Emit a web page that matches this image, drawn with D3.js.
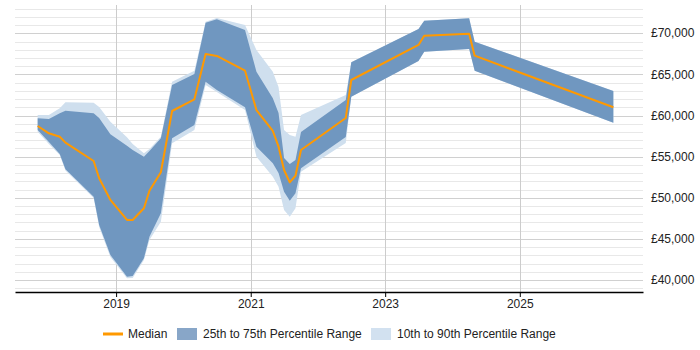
<!DOCTYPE html>
<html>
<head>
<meta charset="utf-8">
<script src="https://cdn.jsdelivr.net/npm/d3@7"></script>
<style>
  body { margin: 0; background: #fff; }
  svg { font-family: "Liberation Sans", Arial, sans-serif; }
  .grid-minor { stroke: #e8e8e8; stroke-width: 1; }
  .grid-major { stroke: #d0d0d0; stroke-width: 1; }
  .grid-x { stroke: #cccccc; stroke-width: 1; }
  .tick-label { font-size: 12px; fill: #222; font-family: "Liberation Sans", Arial, sans-serif; }
  .legend-label { font-size: 12px; fill: #222; }
</style>
</head>
<body>
<svg id="chart" width="700" height="350"></svg>
<script>

// values
var dates = ["2017-11-01", "2018-01-01", "2018-03-01", "2018-04-01", "2018-09-01", "2018-10-01",
             "2018-12-01", "2019-03-01", "2019-04-01", "2019-06-01", "2019-07-01", "2019-09-01",
             "2019-11-01", "2020-03-01", "2020-05-01", "2020-07-01", "2020-12-01", "2021-02-01",
             "2021-05-01", "2021-06-01", "2021-07-01", "2021-08-01", "2021-09-01", "2021-10-01",
             "2022-06-01", "2022-07-01", "2023-07-01", "2023-08-01", "2024-04-01", "2024-05-01",
             "2026-05-24"];

var median = [58725, 57840, 57425, 56700, 54470, 52370, 49730, 47300, 47300, 48720, 50860, 53100,
              60550, 61970, 67480, 67240, 65450, 60670, 58120, 56210, 53380, 51880, 52680, 55810,
              59700, 64320, 68580, 69710, 69950, 67280, 61000];

var p25 = [58240, 56780, 55320, 53460, 50130, 46690, 43040, 40400, 40490, 42640, 45270, 48110,
           57230, 58850, 64110, 63100, 61000, 56210, 54190, 53010, 50740, 49640, 50540, 53580,
           57390, 62290, 66630, 67760, 68090, 65450, 59130];

var p75 = [59660, 59580, 60270, 60590, 60270, 59700, 57720, 56330, 55810, 54990, 55690, 57230,
           63710, 65050, 71290, 71700, 70400, 65330, 62100, 60310, 54840, 54110, 54590, 58000,
           61890, 66470, 70520, 71530, 71820, 68980, 62980];

var p10 = [58035, 56540, 55200, 53315, 49970, 46445, 42800, 40210, 40240, 42430, 44860, 47090,
           56620, 58240, 63710, 62860, 60670, 54990, 52560, 51350, 48510, 47700, 48720, 53170,
           56660, 62290, 66630, 67760, 68090, 65450, 59130];

var p90 = [60065, 60065, 60880, 61610, 61560, 61040, 59250, 57350, 56540, 55410, 55930, 57425,
           64110, 65450, 71410, 71860, 71010, 67970, 65330, 63470, 58240, 57630, 57425, 60065,
           62500, 66470, 70520, 71530, 71820, 68980, 62980];

var x_ticks = ["2019-01-01", "2021-01-01", "2023-01-01", "2025-01-01"];
var y_ticks = [40000, 45000, 50000, 55000, 60000, 65000, 70000];

var legend_labels = ["Median", "25th to 75th Percentile Range", "10th to 90th Percentile Range"];

var parseDate = d3.timeParse("%Y-%m-%d");

var plotLeft = 15, plotRight = 643, plotTop = 5, plotBottom = 292;

var svg = d3.select("#chart");

var xScale = d3.scaleTime()
               .domain([parseDate("2017-07-01"), parseDate("2026-11-01")])
               .range([plotLeft, plotRight]);

var yScale = d3.scaleLinear()
               .domain([38540, 73440])
               .range([plotBottom, plotTop]);

var data = dates.map((d, i) => ({
    date: parseDate(d),
    median: median[i],
    p25: p25[i],
    p75: p75[i],
    p10: p10[i],
    p90: p90[i]
}));

function draw_grid() {

    // minor horizontal lines every 1000
    var minor = d3.range(39000, 73001, 1000).filter(v => v % 5000 != 0);

    svg.selectAll("line.grid-minor")
       .data(minor)
       .enter()
       .append("line")
       .attr("class", "grid-minor")
       .attr("x1", plotLeft)
       .attr("x2", plotRight)
       .attr("y1", d => Math.round(yScale(d)) + 0.5)
       .attr("y2", d => Math.round(yScale(d)) + 0.5);

    svg.selectAll("line.grid-major")
       .data(y_ticks)
       .enter()
       .append("line")
       .attr("class", "grid-major")
       .attr("x1", plotLeft)
       .attr("x2", plotRight)
       .attr("y1", d => Math.round(yScale(d)) + 0.5)
       .attr("y2", d => Math.round(yScale(d)) + 0.5);

    svg.selectAll("line.grid-x")
       .data(x_ticks)
       .enter()
       .append("line")
       .attr("class", "grid-x")
       .attr("x1", d => Math.round(xScale(parseDate(d))) + 0.5)
       .attr("x2", d => Math.round(xScale(parseDate(d))) + 0.5)
       .attr("y1", plotTop)
       .attr("y2", plotBottom);
}

function draw_bands() {

    var outer = d3.area()
                  .x(d => xScale(d.date))
                  .y0(d => yScale(d.p10))
                  .y1(d => yScale(d.p90));

    var inner = d3.area()
                  .x(d => xScale(d.date))
                  .y0(d => yScale(d.p25))
                  .y1(d => yScale(d.p75));

    svg.append("path")
       .datum(data)
       .attr("fill", "#cfdfee")
       .attr("d", outer);

    svg.append("path")
       .datum(data)
       .attr("fill", "#7097c0")
       .attr("d", inner);

    var line = d3.line()
                 .x(d => xScale(d.date))
                 .y(d => yScale(d.median));

    svg.append("path")
       .datum(data)
       .attr("fill", "none")
       .attr("stroke", "#ff9900")
       .attr("stroke-width", 2)
       .attr("stroke-linejoin", "round")
       .attr("d", line);
}

function draw_axes() {

    var xAxis = d3.axisBottom(xScale)
                  .tickValues(x_ticks.map(parseDate))
                  .tickFormat(d3.timeFormat("%Y"))
                  .tickSize(5)
                  .tickSizeOuter(0);

    var gx = svg.append("g")
                .attr("transform", "translate(0," + plotBottom + ")")
                .call(xAxis);

    gx.attr("font-family", null).attr("font-size", null);
    gx.select(".domain").attr("stroke", "#000").attr("stroke-width", 1.5);
    gx.selectAll(".tick line").attr("stroke", "#000");
    gx.selectAll(".tick text")
      .attr("class", "tick-label")
      .attr("dy", "0.85em")
      .attr("y", 6);

    svg.selectAll("text.y-label")
       .data(y_ticks)
       .enter()
       .append("text")
       .attr("class", "tick-label y-label")
       .attr("x", 651)
       .attr("y", d => yScale(d))
       .attr("dy", "0.35em")
       .text(d => "£" + d3.format(",")(d));
}

function draw_legend() {

    var ly = 334;

    var g = svg.append("g");

    g.append("line")
     .attr("x1", 103)
     .attr("x2", 123)
     .attr("y1", ly)
     .attr("y2", ly)
     .attr("stroke", "#ff9900")
     .attr("stroke-width", 3);

    g.append("rect")
     .attr("x", 177)
     .attr("y", ly - 6)
     .attr("width", 20)
     .attr("height", 12)
     .attr("fill", "#88a6c8");

    g.append("rect")
     .attr("x", 371)
     .attr("y", ly - 6)
     .attr("width", 20)
     .attr("height", 12)
     .attr("fill", "#d2e1f0");

    var label_x = [128, 203, 397];

    g.selectAll("text.legend-label")
     .data(legend_labels)
     .enter()
     .append("text")
     .attr("class", "legend-label")
     .attr("x", (d, i) => label_x[i])
     .attr("y", ly)
     .attr("dy", "0.35em")
     .text(d => d);
}

draw_grid();
draw_bands();
draw_axes();
draw_legend();

</script>
</body>
</html>
